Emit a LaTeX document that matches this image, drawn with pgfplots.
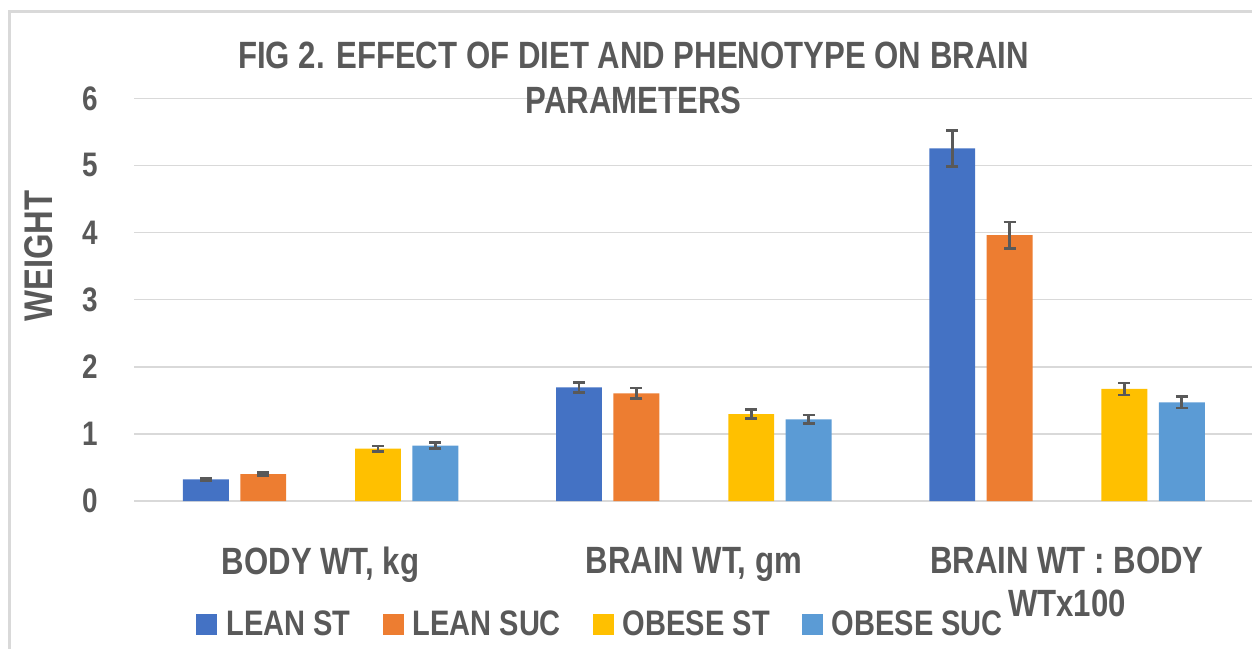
\documentclass[border=0pt]{standalone}
\usepackage{pgfplots}
\pgfplotsset{compat=1.18}
\usepackage{pgfplotstable}
\usepackage{fontspec}
\setmainfont{Liberation Sans}[FakeStretch=0.82]
\definecolor{txt}{HTML}{595959}
\definecolor{gridc}{HTML}{D9D9D9}
\definecolor{c1}{HTML}{4472C4}
\definecolor{c2}{HTML}{ED7D31}
\definecolor{c3}{HTML}{FFC000}
\definecolor{c4}{HTML}{5B9BD5}

% x = category index + bar offset within group
\pgfplotstableread{
x y e
-0.3076 0.323 0.02
0.6924 1.694 0.075
1.6924 5.255 0.27
}\leanst
\pgfplotstableread{
x y e
-0.1538 0.402 0.02
0.8462 1.605 0.08
1.8462 3.963 0.195
}\leansuc
\pgfplotstableread{
x y e
0.1538 0.779 0.04
1.1538 1.296 0.07
2.1538 1.669 0.09
}\obesest
\pgfplotstableread{
x y e
0.3076 0.824 0.045
1.3076 1.217 0.065
2.3076 1.470 0.085
}\obesesuc

\pgfplotsset{
  sqleg/.style={legend image code/.code={\fill[##1,draw=none] (0pt,-5.25pt) rectangle (10.5pt,5.25pt);}},
  myerr/.style={error bars/.cd, y dir=both, y explicit,
     error bar style={line width=1.4pt, color=txt},
     error mark options={rotate=90, mark size=3pt, line width=1.4pt, color=txt}}}

\begin{document}
\begin{tikzpicture}
\useasboundingbox (0,0) rectangle (626pt,324pt);
\draw[gridc, line width=1.5pt] (4.75pt,318pt) rectangle (700pt,-50pt);
\begin{axis}[
  at={(67pt,73.5pt)}, anchor=south west,
  scale only axis, width=559.8pt, height=201.35pt,
  xmin=-0.5, xmax=2.5, ymin=0, ymax=6,
  ytick={0,1,2,3,4,5,6},
  xtick={0,1,2},
  xticklabels={BODY WT{,} kg, BRAIN WT{,} gm, {BRAIN WT : BODY\\WTx100}},
  axis line style={draw=none},
  major tick style={draw=none},
  ymajorgrids, grid style={gridc, line width=0.75pt},
  /pgf/number format/assume math mode=true,
  yticklabel style={font=\fontsize{17}{20}\selectfont\bfseries, text=txt, inner sep=0pt, anchor=east, xshift=-18pt},
  xticklabel style={font=\fontsize{19}{21.5}\selectfont\bfseries, text=txt, inner sep=0pt, anchor=north, align=center, yshift=-18.5pt},
  legend columns=4,
  legend style={at={(0.0554,-0.306)}, anchor=west, draw=none, fill=none, inner sep=0pt,
     font=\fontsize{17.7}{20}\selectfont\bfseries, text=txt,
     nodes={inner xsep=0pt, inner ysep=1pt},
     /tikz/every odd column/.append style={column sep=4.5pt},
     /tikz/every even column/.append style={column sep=16pt}},
  ybar, bar width=0.123,
]
\addplot[fill=c1, draw=none, bar shift=0pt, sqleg, myerr] table[x=x, y=y, y error=e] {\leanst};
\addlegendentry{LEAN ST}
\addplot[fill=c2, draw=none, bar shift=0pt, sqleg, myerr] table[x=x, y=y, y error=e] {\leansuc};
\addlegendentry{LEAN SUC}
\addplot[fill=c3, draw=none, bar shift=0pt, sqleg, myerr] table[x=x, y=y, y error=e] {\obesest};
\addlegendentry{OBESE ST}
\addplot[fill=c4, draw=none, bar shift=0pt, sqleg, myerr] table[x=x, y=y, y error=e] {\obesesuc};
\addlegendentry{OBESE SUC}
\end{axis}
\node[text=txt, font=\fontsize{19}{22.5}\selectfont\bfseries, align=center, anchor=north] at (316.75pt,306.5pt) {FIG 2. EFFECT OF DIET AND PHENOTYPE ON BRAIN\\PARAMETERS};
\node[text=txt, font=\fontsize{20}{22}\selectfont\bfseries, rotate=90] at (19.5pt,196pt) {WEIGHT};
\end{tikzpicture}
\end{document}
